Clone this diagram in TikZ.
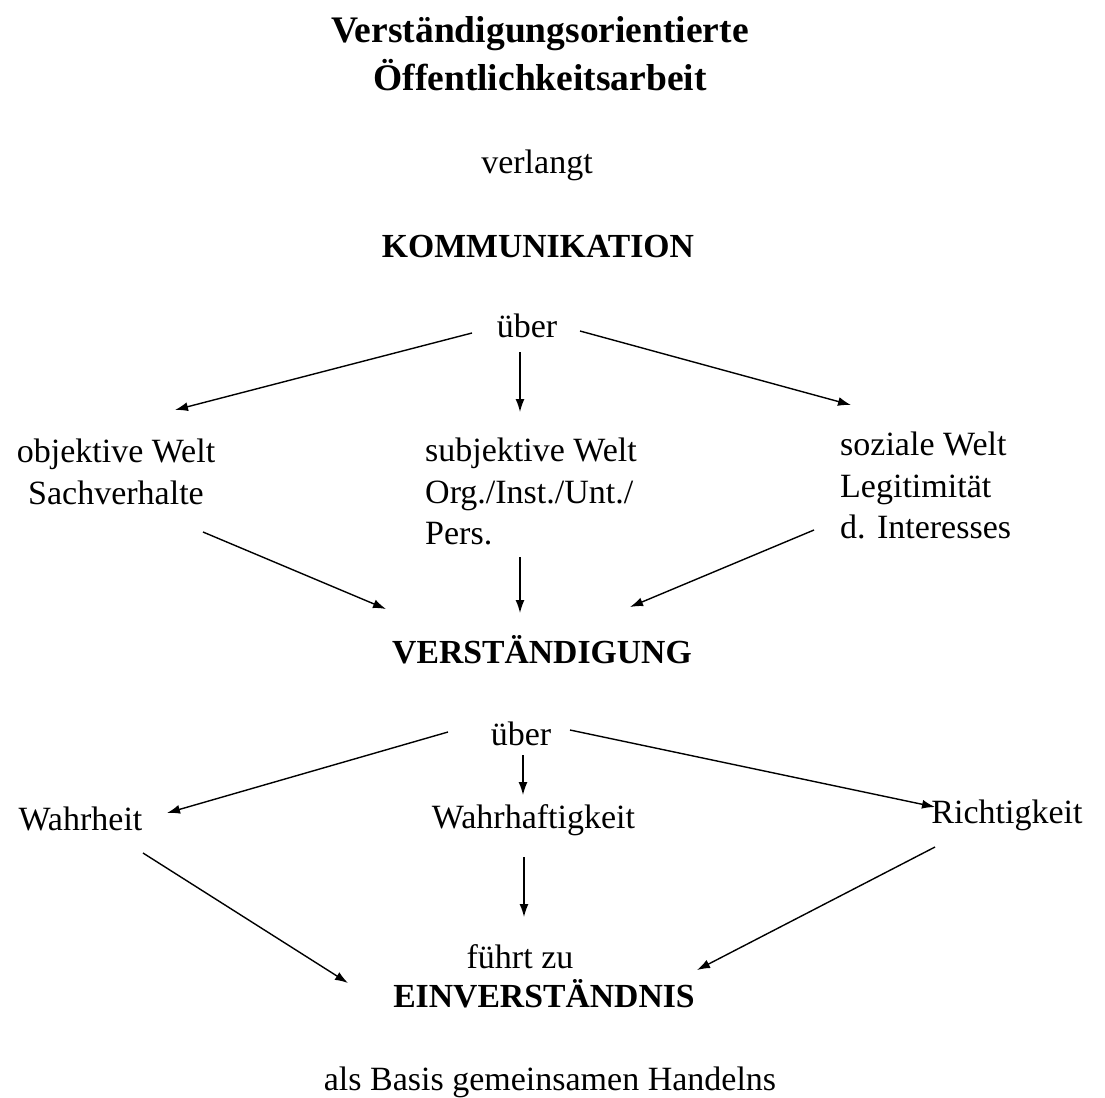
\documentclass[tikz,border=0pt]{standalone}
\usepackage{fontspec}
\setmainfont{Liberation Serif}
\usetikzlibrary{arrows.meta}
\begin{document}
\begin{tikzpicture}[x=1pt,y=-1pt,
  txt/.style={inner sep=0pt, font=\fontsize{34}{41.5}\selectfont},
  bld/.style={inner sep=0pt, font=\fontsize{33.7}{40}\selectfont\bfseries},
  ttl/.style={inner sep=0pt, font=\fontsize{37.5}{48}\selectfont\bfseries, align=center},
  arr/.style={line width=1.4pt, -{Latex[length=13pt,width=9pt]}}]
\useasboundingbox (0,0) rectangle (1105,1097);
% texts
\node[ttl, anchor=north] (title) at (540,16.3) {Verständigungsorientierte\\Öffentlichkeitsarbeit};
\node[txt, anchor=base] (verlangt) at (537,173) {verlangt};
\node[bld, anchor=base] (komm) at (538,257) {KOMMUNIKATION};
\node[txt, anchor=base] (ueber1) at (527,337) {über};
\node[txt, anchor=north, align=center] (obj) at (116,438.8) {objektive Welt\\Sachverhalte};
\node[txt, anchor=north west, align=left] (subj) at (425,437.8) {subjektive Welt\\Org./Inst./Unt./\\Pers.};
\node[txt, anchor=north west, align=left] (soz) at (840,431.8) {soziale Welt\\Legitimität\\d. Interesses};
\node[bld, anchor=base] (verst) at (542,663) {VERSTÄNDIGUNG};
\node[txt, anchor=base] (ueber2) at (521,745) {über};
\node[txt, anchor=base] (wahrheit) at (80.5,830) {Wahrheit};
\node[txt, anchor=base] (wahrhaft) at (533.5,828) {Wahrhaftigkeit};
\node[txt, anchor=base] (richtig) at (1007,823) {Richtigkeit};
\node[txt, anchor=base] (fuehrt) at (520,968) {führt zu};
\node[bld, anchor=base] (einv) at (544,1007) {EINVERSTÄNDNIS};
\node[txt, anchor=base] (basis) at (550,1090) {als Basis gemeinsamen Handelns};
% connectors
\draw[arr] ([shift={(-55,-4)}]ueber1.base) -- ([shift={(59,-28.8)}]obj.north);
\draw[arr] ([shift={(-7,15)}]ueber1.base) -- ([shift={(95,-25.8)}]subj.north west);
\draw[arr] ([shift={(53,-6)}]ueber1.base) -- ([shift={(11,-26.8)}]soz.north west);
\draw[arr] ([shift={(87,93.2)}]obj.north) -- ([shift={(-156,-54)}]verst.base);
\draw[arr] ([shift={(95,119.2)}]subj.north west) -- ([shift={(-22,-50)}]verst.base);
\draw[arr] ([shift={(-26,98.2)}]soz.north west) -- ([shift={(88,-56)}]verst.base);
\draw[arr] ([shift={(-73,-13)}]ueber2.base) -- ([shift={(86.5,-17)}]wahrheit.base);
\draw[arr] ([shift={(2,10)}]ueber2.base) -- ([shift={(-10.5,-33)}]wahrhaft.base);
\draw[arr] ([shift={(49,-15)}]ueber2.base) -- ([shift={(-72,-16)}]richtig.base);
\draw[arr] ([shift={(62.5,23)}]wahrheit.base) -- ([shift={(-196,-24)}]einv.base);
\draw[arr] ([shift={(-9.5,29)}]wahrhaft.base) -- ([shift={(4,-51)}]fuehrt.base);
\draw[arr] ([shift={(-72,24)}]richtig.base) -- ([shift={(153,-37)}]einv.base);
\end{tikzpicture}
\end{document}
